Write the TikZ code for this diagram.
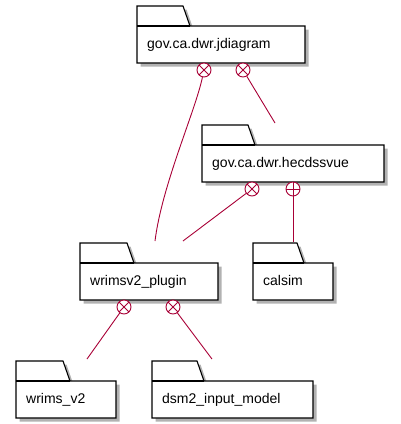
\documentclass[tikz,border=0pt]{standalone}
\usepackage{fontspec}
\setmainfont{Liberation Sans}
\usetikzlibrary{shadows}
\definecolor{linkc}{HTML}{A80036}
\tikzset{
  x=1pt, y=-1pt,
  pkgshape/.style={draw=black, line width=1.1pt, fill=white, line join=miter,
    drop shadow={shadow xshift=3.5pt, shadow yshift=-3.5pt, fill=black, opacity=0.3}},
  pkgtext/.style={anchor=base west, inner sep=0pt, font=\fontsize{14pt}{16pt}\selectfont},
  lnk/.style={draw=linkc, line width=0.9pt},
  xcirc/.style={circle, draw=linkc, fill=white, line width=0.9pt, minimum size=14pt, inner sep=0pt,
    path picture={\draw[linkc, line width=0.9pt] (path picture bounding box.north west) -- (path picture bounding box.south east)
      (path picture bounding box.north east) -- (path picture bounding box.south west);}},
  pcirc/.style={circle, draw=linkc, fill=white, line width=0.9pt, minimum size=14pt, inner sep=0pt,
    path picture={\draw[linkc, line width=0.9pt] (path picture bounding box.north) -- (path picture bounding box.south)
      (path picture bounding box.east) -- (path picture bounding box.west);}},
}
% #1 name, #2 x, #3 tab top y, #4 body right x, #5 tab right x, #6 text
\newcommand{\pkgdraw}[6]{%
  \path[pkgshape] (#2,#3) -- (#5,#3) -- (#5+7,#3+20) -- (#4,#3+20) -- (#4,#3+57) -- (#2,#3+57) -- cycle;
  \draw[line width=1.1pt] (#2,#3+20) -- (#5+7,#3+20);
  \node[pkgtext] (#1) at (#2+10,#3+42) {#6};
}
\begin{document}
\begin{tikzpicture}
\useasboundingbox (0,0) rectangle (400,424);
\pkgdraw{jd}{137}{6}{305}{183}{gov.ca.dwr.jdiagram}
\pkgdraw{hec}{202}{125}{384}{248}{gov.ca.dwr.hecdssvue}
\pkgdraw{wp}{80}{243}{218}{127}{wrimsv2\_plugin}
\pkgdraw{cal}{253}{243}{333}{297}{calsim}
\pkgdraw{wv}{16}{361}{116}{63}{wrims\_v2}
\pkgdraw{dsm}{152}{361}{313}{197}{dsm2\_input\_model}

\node[xcirc] (jdA) at (204,70) {};
\node[xcirc] (jdB) at (243,70) {};
\node[xcirc] (hecA) at (252,189) {};
\node[pcirc] (hecB) at (293,189) {};
\node[xcirc] (wpA) at (124,307) {};
\node[xcirc] (wpB) at (173,307) {};

\coordinate (eWp1) at (155,241);
\coordinate (eHec) at (275,123);
\coordinate (eWp2) at (183,241);
\coordinate (eCal) at (293,242);
\coordinate (eWv) at (87,359);
\coordinate (eDsm) at (212,359);

\draw[lnk] (jdA) .. controls (195,112) and (162,185) .. (eWp1);
\draw[lnk] (jdB) -- (eHec);
\draw[lnk] (hecA) -- (eWp2);
\draw[lnk] (hecB) -- (eCal);
\draw[lnk] (wpA) -- (eWv);
\draw[lnk] (wpB) -- (eDsm);
\end{tikzpicture}
\end{document}
